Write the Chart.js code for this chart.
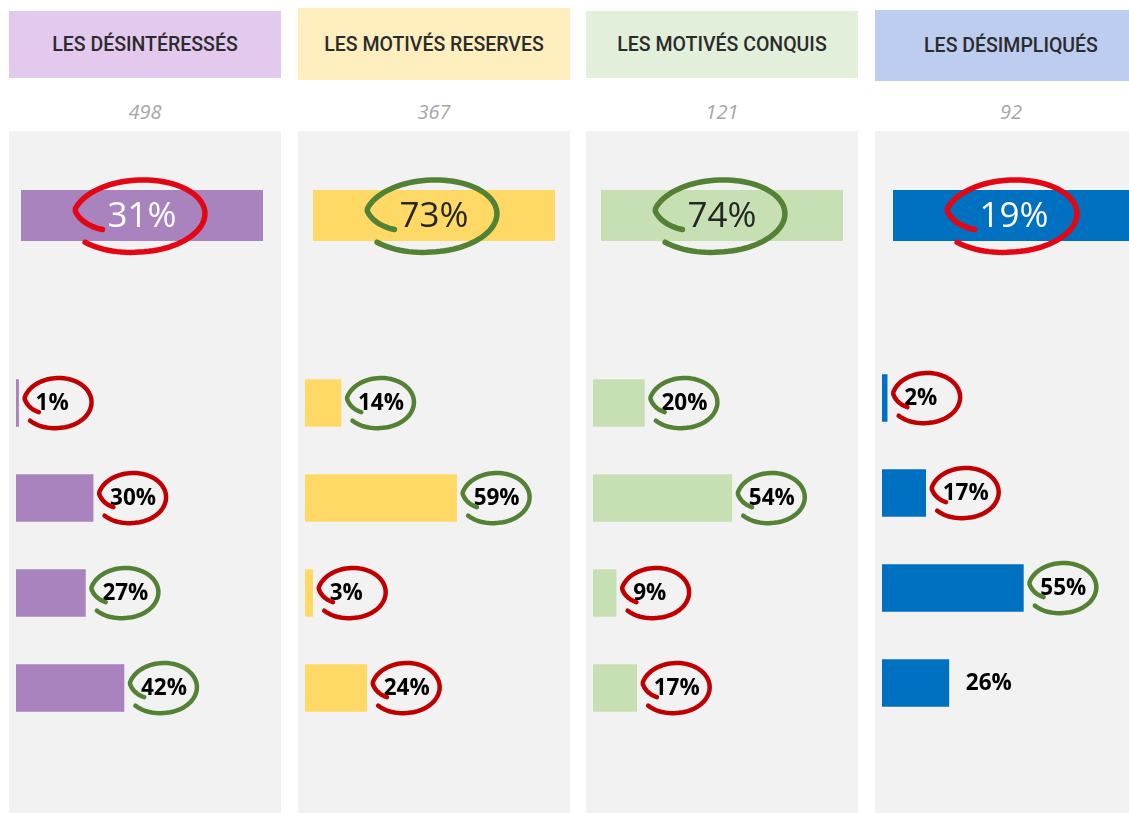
<!DOCTYPE html>
<html>
<head>
<meta charset="utf-8">
<script src="https://cdn.jsdelivr.net/npm/chart.js@4/dist/chart.umd.min.js"></script>
<style>
  body { margin: 0; background: #fff; width: 1129px; height: 813px; overflow: hidden; position: relative; }
  .head { position: absolute; width: 272px; display: flex; align-items: center; justify-content: center;
          font: 500 19.5px Roboto, sans-serif; color: #2b2b2b; }
  .count { position: absolute; top: 98px; width: 272px; text-align: center;
           font: italic 20px "Open Sans", sans-serif; color: #a6a6a6; }
  .panel { position: absolute; top: 131px; width: 272px; height: 682px; background: #f2f2f2; }
  canvas { display: block; }
</style>
</head>
<body>
<script>
// segments and their headcount
const segments = ['LES DÉSINTÉRESSÉS', 'LES MOTIVÉS RESERVES', 'LES MOTIVÉS CONQUIS', 'LES DÉSIMPLIQUÉS']
const respondents = [498, 367, 121, 92]

// main score per segment (%), and whether it is good or bad
const scores = [31, 73, 74, 19]
const scoreVerdicts = ['bad', 'good', 'good', 'bad']

// the four answers under each score (%)
const answers = ['1', '2', '3', '4']
const desinteresses = [1, 30, 27, 42]
const motivesReserves = [14, 59, 3, 24]
const motivesConquis = [20, 54, 9, 17]
const desimpliques = [2, 17, 55, 26]

const desinteressesVerdicts = ['bad', 'bad', 'good', 'good']
const motivesReservesVerdicts = ['good', 'good', 'bad', 'bad']
const motivesConquisVerdicts = ['good', 'good', 'bad', 'bad']
const desimpliquesVerdicts = ['bad', 'bad', 'good', null]

const series = [desinteresses, motivesReserves, motivesConquis, desimpliques]
const verdicts = [desinteressesVerdicts, motivesReservesVerdicts, motivesConquisVerdicts, desimpliquesVerdicts]

// look of each column
const columns = [
  { left: 9,   headTop: 11, headH: 67, head: '#e4c9ef', bar: '#a983bd', scoreText: '#ffffff', rowTop: 224.5, tile: 12 },
  { left: 298, headTop: 8,  headH: 72, head: '#ffefbf', bar: '#ffd966', scoreText: '#262626', rowTop: 224.5, tile: 15 },
  { left: 586, headTop: 11, headH: 67, head: '#e2efda', bar: '#c6e0b4', scoreText: '#262626', rowTop: 224.5, tile: 15 },
  { left: 875, headTop: 10, headH: 71, head: '#bdcdf0', bar: '#0070c0', scoreText: '#ffffff', rowTop: 219.5, tile: 18 }
]
const ink = { good: '#548235', bad: '#c00000', badBig: '#e30613' }

// loose hand drawn loop around a label
function scribble(ctx, cx, cy, rx, ry, color, lw){
  const a0 = 150 * Math.PI / 180
  const a1 = 502 * Math.PI / 180
  const n = 90
  ctx.save()
  ctx.translate(cx, cy)
  ctx.rotate(-0.05)
  ctx.beginPath()
  for(let i = 0; i <= n; i++){
    const a = a0 + (a1 - a0) * i / n
    const d = (a - a0) * 180 / Math.PI
    let k = 1 - 0.35 * Math.max(0, 1 - d / 45)
    k += 0.06 * Math.max(0, (d - 300) / 52)
    const x = rx * k * Math.cos(a)
    const y = ry * k * Math.sin(a)
    i == 0 ? ctx.moveTo(x, y) : ctx.lineTo(x, y)
  }
  ctx.strokeStyle = color
  ctx.lineWidth = lw
  ctx.lineCap = 'round'
  ctx.lineJoin = 'round'
  ctx.stroke()
  ctx.restore()
}

const scorePlugin = {
  id: 'score',
  afterDatasetsDraw(chart, args, opts){
    const ctx = chart.ctx
    const mid = opts.tile + 121
    ctx.save()
    // score tile
    ctx.fillStyle = opts.color
    ctx.fillRect(opts.tile, 59, 242, 51)
    ctx.font = '500 35px "Open Sans"'
    ctx.textAlign = 'center'
    ctx.textBaseline = 'middle'
    ctx.fillStyle = opts.textColor
    ctx.fillText(opts.score + '%', mid, 86)
    scribble(ctx, mid - 3, 85, 66, 36, opts.verdict == 'good' ? ink.good : ink.badBig, 5.5)

    // value labels next to bars
    const meta = chart.getDatasetMeta(0)
    const values = chart.data.datasets[0].data
    ctx.font = 'bold 22.5px "Open Sans"'
    ctx.textAlign = 'left'
    meta.data.forEach((bar, i) => {
      const x = bar.x + 17
      ctx.fillStyle = '#000'
      ctx.fillText(values[i] + '%', x, bar.y + 1)
      const v = opts.verdicts[i]
      if(v){
        scribble(ctx, x + 22, bar.y, 34, 25, ink[v], 4.5)
      }
    })
    ctx.restore()
  }
}

columns.forEach((col, c) => {
  const head = document.createElement('div')
  head.className = 'head'
  head.style.left = col.left + 'px'
  head.style.top = col.headTop + 'px'
  head.style.height = col.headH + 'px'
  head.style.background = col.head
  head.textContent = segments[c]

  const count = document.createElement('div')
  count.className = 'count'
  count.style.left = col.left + 'px'
  count.textContent = respondents[c]

  const panel = document.createElement('div')
  panel.className = 'panel'
  panel.style.left = col.left + 'px'
  const canvas = document.createElement('canvas')
  canvas.width = 272
  canvas.height = 682
  panel.append(canvas)
  document.body.append(head, count, panel)

  new Chart(canvas, {
    type: 'bar',
    data: {
      labels: answers,
      datasets: [{
        data: series[c],
        backgroundColor: col.bar,
        barThickness: 47,
        borderWidth: 0
      }]
    },
    options: {
      indexAxis: 'y',
      responsive: false,
      animation: false,
      layout: { padding: { left: 7, right: 8, top: col.rowTop, bottom: 682 - col.rowTop - 380 } },
      scales: {
        x: { display: false, min: 0, max: 100 },
        y: { display: false }
      },
      plugins: {
        legend: { display: false },
        tooltip: { enabled: false },
        score: {
          score: scores[c],
          verdict: scoreVerdicts[c],
          color: col.bar,
          textColor: col.scoreText,
          tile: col.tile,
          verdicts: verdicts[c]
        }
      }
    },
    plugins: [scorePlugin]
  })
})
</script>
</body>
</html>
